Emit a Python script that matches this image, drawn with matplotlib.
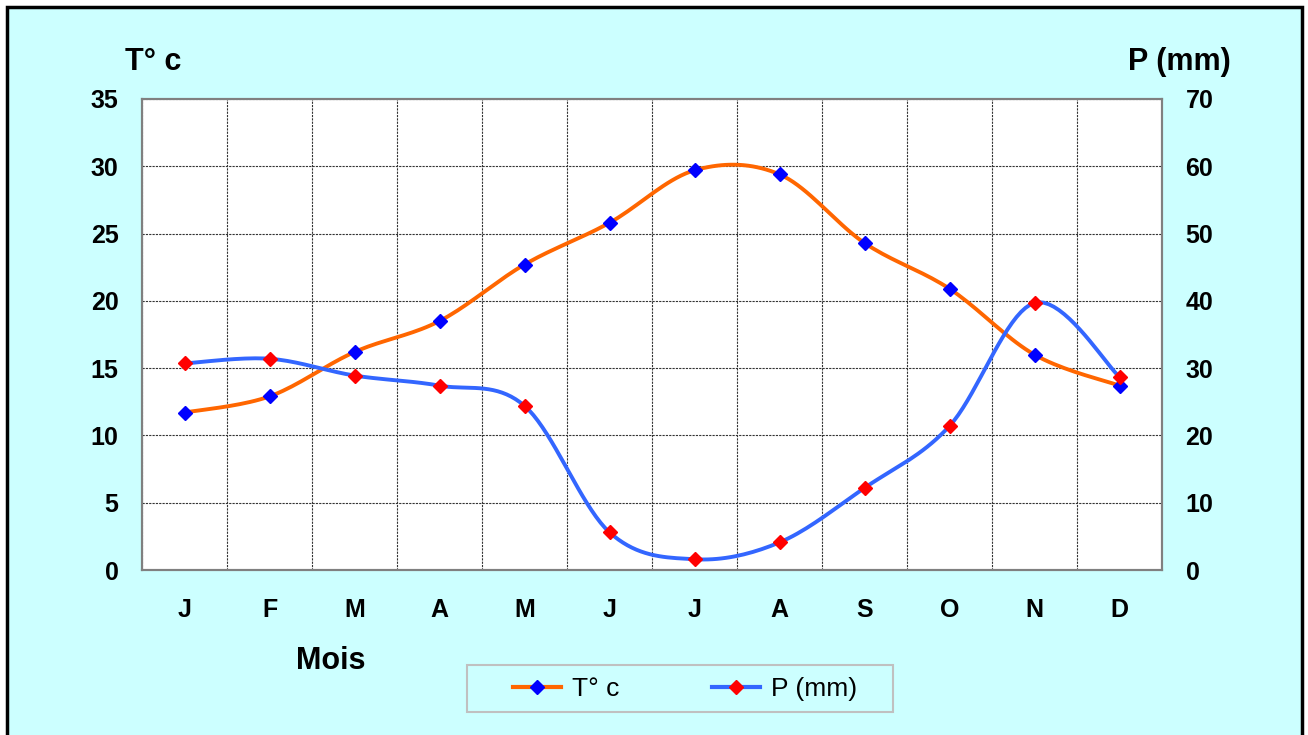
import numpy as np
import matplotlib
matplotlib.use('Agg')
import matplotlib.pyplot as plt
from matplotlib.patches import Rectangle
from matplotlib.lines import Line2D

plt.rcParams['font.family'] = ['Liberation Sans', 'DejaVu Sans']

# données
mois = ['J', 'F', 'M', 'A', 'M', 'J', 'J', 'A', 'S', 'O', 'N', 'D']
temp = [11.7, 12.9, 16.2, 18.5, 22.7, 25.8, 29.7, 29.4, 24.3, 20.9, 16.0, 13.7]
precip = [30.7, 31.4, 28.9, 27.4, 24.4, 5.6, 1.6, 4.1, 12.2, 21.4, 39.7, 28.7]


def lisse(y, n=20):
    # courbe lissée type Excel (Bezier / Catmull-Rom)
    y = np.asarray(y, float)
    x = np.arange(len(y), dtype=float)
    p = np.column_stack([x, y])
    t = np.linspace(0, 1, n)[:, None]
    out = []
    for i in range(len(p) - 1):
        a = p[max(i - 1, 0)]
        b = p[i]
        c = p[i + 1]
        d = p[min(i + 2, len(p) - 1)]
        c1 = b + (c - a) / 6
        c2 = c - (d - b) / 6
        seg = ((1 - t) ** 3) * b + 3 * ((1 - t) ** 2) * t * c1 + 3 * (1 - t) * t ** 2 * c2 + t ** 3 * c
        out.append(seg if i == 0 else seg[1:])
    out = np.vstack(out)
    return out[:, 0], out[:, 1]


fig = plt.figure(figsize=(13.08, 7.35), dpi=100)
fig.patch.set_facecolor('white')
W, H = 1308, 735
fond = Rectangle((7 / W, -0.01), (1302 - 7) / W, 1 - 7 / H + 0.01,
                 transform=fig.transFigure, facecolor='#CCFFFF',
                 edgecolor='black', linewidth=2.5, zorder=-10)
fig.patches.append(fond)

ax = fig.add_axes([142 / W, 1 - 570 / H, (1162 - 142) / W, (570 - 99) / H])
ax.set_facecolor('white')
ax2 = ax.twinx()

x = np.arange(len(mois))
xs, ys = lisse(temp)
ax.plot(xs, ys, color='#FF6600', lw=2.8, zorder=3)
ax.plot(x, temp, ls='none', marker='D', ms=7, color='#0000FF', zorder=4)

xs2, ys2 = lisse(precip)
ax2.plot(xs2, ys2, color='#3366FF', lw=2.8, zorder=3)
ax2.plot(x, precip, ls='none', marker='D', ms=7, color='#FF0000', zorder=4)

ax.set_xlim(-0.5, 11.5)
ax.set_ylim(0, 35)
ax2.set_ylim(0, 70)
ax.set_yticks(np.arange(0, 36, 5))
ax2.set_yticks(np.arange(0, 71, 10))
ax.set_xticks(x)
ax.set_xticklabels(mois)
ax.set_xticks(np.arange(-0.5, 12, 1), minor=True)

ax.grid(True, which='minor', axis='x', color='#333333', ls=(0, (2, 1)), lw=0.8)
ax.grid(True, which='major', axis='y', color='#333333', ls=(0, (2, 1)), lw=0.8)
ax.set_axisbelow(True)

for a in (ax, ax2):
    for s in a.spines.values():
        s.set_color('#808080')
        s.set_linewidth(1.5)
    a.tick_params(which='both', length=0)

ax.tick_params(axis='y', labelsize=18, pad=17)
ax2.tick_params(axis='y', labelsize=18, pad=17)
ax.tick_params(axis='x', labelsize=18, pad=20)
for lab in ax.get_yticklabels() + ax2.get_yticklabels() + ax.get_xticklabels():
    lab.set_fontweight('bold')

fig.text(125 / W, 1 - 62 / H, 'T° c', fontsize=22, fontweight='bold', va='center', ha='left')
fig.text(1179 / W, 1 - 62 / H, 'P (mm)', fontsize=22, fontweight='bold', va='center', ha='center')
fig.text(331 / W, 1 - 661 / H, 'Mois', fontsize=22, fontweight='bold', va='center', ha='center')

# légende
fig.patches.append(Rectangle((467 / W, 1 - 712 / H), (893 - 467) / W, 47 / H,
                             transform=fig.transFigure, facecolor='#CCFFFF',
                             edgecolor='#C0C0C0', linewidth=1.5, zorder=-5))
h1 = Line2D([], [], color='#FF6600', lw=3, marker='D', ms=7, mfc='#0000FF', mec='#0000FF')
h2 = Line2D([], [], color='#3366FF', lw=3, marker='D', ms=7, mfc='#FF0000', mec='#FF0000')
leg = fig.legend([h1, h2], ['T° c', 'P (mm)'], loc='center left', ncol=2,
                 bbox_to_anchor=(513 / W, 1 - 689 / H), fontsize=19,
                 frameon=False, handlelength=1.8, columnspacing=3.5,
                 handletextpad=0.45, borderpad=0, borderaxespad=0)

fig.savefig('out.png', dpi=100, facecolor=fig.get_facecolor())
